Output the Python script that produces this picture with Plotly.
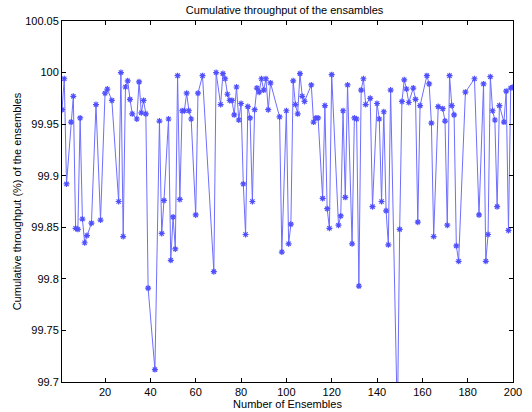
import plotly.graph_objects as go

ensembles = [1, 2, 3, 5, 6, 7, 8, 9, 10, 11, 12, 14, 16, 18, 20, 21, 23, 26, 27, 28, 29, 30, 31, 32, 34,
             35, 36, 37, 38, 39, 42, 44, 45, 46, 48, 49, 50, 51, 52, 53, 54, 55, 56, 57, 58, 60, 61, 63, 68, 69,
             71, 72, 73, 74, 75, 76, 77, 78, 79, 80, 81, 82, 83, 84, 85, 86, 87, 88, 89, 90, 91, 92, 93, 97, 98,
             100, 101, 102, 103, 104, 105, 106, 107, 108, 111, 112, 113, 114, 116, 117, 118, 119, 120, 123, 124,
             125, 126, 127, 129, 130, 131, 132, 133, 134, 135, 137, 138, 140, 141, 142, 143, 144, 145, 146, 149,
             150, 151, 152, 153, 154, 156, 157, 158, 159, 162, 163, 164, 165, 167, 169, 170, 171, 172, 173, 174,
             175, 176, 179, 183, 185, 187, 188, 189, 190, 191, 192, 193, 194, 196, 197, 198, 199, 200]

throughput = [99.964, 99.994, 99.892, 99.952, 99.977, 99.849, 99.848, 99.956, 99.858, 99.835, 99.842, 99.854,
              99.969, 99.857, 99.980, 99.984, 99.973, 99.875, 100.000, 99.841, 99.986, 99.992, 99.974, 99.960, 99.955,
              99.991, 99.961, 99.973, 99.960, 99.791, 99.712, 99.953, 99.844, 99.876, 99.955, 99.818, 99.860, 99.829,
              99.997, 99.877, 99.963, 99.963, 99.980, 99.963, 99.955, 99.862, 99.980, 99.997, 99.807, 100.000,
              99.969, 99.999, 99.994, 99.979, 99.973, 99.973, 99.959, 99.986, 99.954, 99.970, 99.892, 99.843, 99.967,
              99.956, 99.875, 99.964, 99.985, 99.981, 99.994, 99.983, 99.994, 99.964, 99.990, 99.957, 99.826,
              99.963, 99.834, 99.853, 99.992, 99.969, 99.960, 99.999, 99.977, 99.972, 99.988, 99.952, 99.956, 99.956,
              99.878, 99.968, 99.868, 99.849, 99.998, 99.852, 99.861,
              99.963, 99.879, 99.988, 99.834, 99.956, 99.955, 99.793, 99.983, 99.994, 99.969, 99.975, 99.870,
              99.970, 99.955, 99.875, 99.962, 99.866, 99.833, 99.983, 99.660,
              99.848, 99.972, 99.993, 99.984, 99.971, 99.985, 99.974, 99.855, 99.968, 99.997, 99.989, 99.951, 99.841,
              99.967, 99.965, 99.953, 99.852, 99.997, 99.968, 99.959,
              99.832, 99.817, 99.981, 99.994, 99.862, 99.989, 99.817, 99.843, 99.996, 99.963, 99.954, 99.870, 99.968,
              99.952, 99.982, 99.847, 99.985, 99.986]

x_ticks = [20, 40, 60, 80, 100, 120, 140, 160, 180, 200]
y_ticks = [99.7, 99.75, 99.8, 99.85, 99.9, 99.95, 100, 100.05]
y_tick_labels = ["99.7", "99.75", "99.8", "99.85", "99.9", "99.95", "100", "100.05"]

FONT = "Liberation Sans, Arial"

fig = go.Figure()
fig.add_trace(go.Scatter(
    x=ensembles, y=throughput, mode="lines+markers",
    line=dict(color="rgb(110,110,255)", width=1),
    marker=dict(symbol="asterisk-open", size=5, color="rgb(80,80,255)",
                line=dict(color="rgb(80,80,255)", width=1.2)),
    showlegend=False, cliponaxis=True,
))

axis_common = dict(showline=True, linecolor="black", linewidth=1, mirror="allticks",
                   ticks="inside", ticklen=4, tickcolor="black", showgrid=False, zeroline=False,
                   automargin=False,
                   tickfont=dict(family=FONT, size=11, color="black"))

fig.update_layout(
    width=532, height=412,
    margin=dict(l=62, r=19, t=21, b=30),
    paper_bgcolor="white", plot_bgcolor="white",
    title=dict(text="Cumulative throughput of the ensambles", x=0.535, xanchor="center",
               y=0.985, yanchor="top",
               font=dict(family=FONT, size=11, color="black")),
    xaxis=dict(range=[1, 200], tickvals=x_ticks,
               title=dict(text="Number of Ensembles", standoff=0,
                          font=dict(family=FONT, size=11, color="black")),
               **axis_common),
    yaxis=dict(range=[99.7, 100.05], tickvals=y_ticks, ticktext=y_tick_labels,
               title=dict(text="Cumulative throughput (%) of the ensembles", standoff=1,
                          font=dict(family=FONT, size=11, color="black")),
               **axis_common),
)

fig.write_html("out.html")
